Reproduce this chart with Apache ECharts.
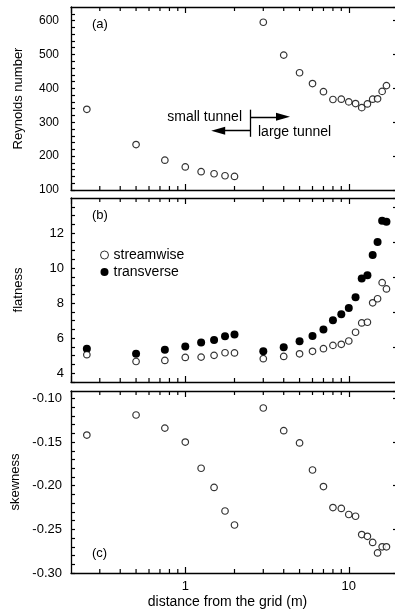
<!DOCTYPE html>
<html>
<head>
<meta charset="utf-8">
<script src="https://cdn.jsdelivr.net/npm/echarts@6/dist/echarts.min.js"></script>
<style>
  html, body { margin: 0; padding: 0; background: #fff; overflow: hidden; }
  #chart { width: 400px; height: 613px; }
</style>
</head>
<body>
<div id="chart"></div>
<script>
// distance from the grid (m)
const distances = [0.25, 0.5, 0.75, 1, 1.25, 1.5, 1.75, 2, 3, 4, 5, 6, 7, 8, 9, 10, 11, 12, 13, 14, 15, 16, 17];
// (a) Reynolds number
const reynolds = [338, 234, 188, 168, 154, 148, 142, 140, 595, 498, 446, 414, 390, 367, 368, 360, 355, 343, 354, 368, 369, 391, 408];
// (b) flatness
const flatStreamwise = [5.06, 4.67, 4.73, 4.90, 4.92, 5.02, 5.17, 5.16, 4.83, 4.96, 5.11, 5.25, 5.40, 5.59, 5.65, 5.84, 6.34, 6.87, 6.91, 8.02, 8.25, 9.17, 8.81];
const flatTransverse = [5.40, 5.11, 5.34, 5.53, 5.75, 5.90, 6.11, 6.21, 5.26, 5.48, 5.82, 6.13, 6.49, 7.03, 7.36, 7.72, 8.33, 9.40, 9.59, 10.75, 11.49, 12.70, 12.64];
// (c) skewness
const skewness = [-0.142, -0.119, -0.134, -0.150, -0.180, -0.202, -0.229, -0.245, -0.111, -0.137, -0.151, -0.182, -0.201, -0.225, -0.226, -0.233, -0.235, -0.256, -0.258, -0.265, -0.277, -0.270, -0.270];
// minor ticks of the log x axis
const xMinorTicks = [0.3, 0.4, 0.5, 0.6, 0.7, 0.8, 0.9, 2, 3, 4, 5, 6, 7, 8, 9];

const FONT = '"Liberation Sans", Arial, Helvetica, sans-serif';
const BLACK = '#000';

const chart = echarts.init(document.getElementById('chart'));

const grids = [
  { left: 71, right: 2, top: 7, height: 183 },
  { left: 71, right: 2, top: 198, height: 184 },
  { left: 71, right: 2, top: 391, height: 182 },
];

const pairs = (arr) => distances.map((d, i) => [d, arr[i]]);

const axisLine = { show: true, onZero: false, lineStyle: { color: BLACK, width: 1.3 } };

function xAxisFor(gridIndex, position, withLabels) {
  return {
    type: 'log',
    gridIndex,
    position,
    min: 0.2,
    max: 20,
    axisLine,
    axisTick: { show: true, inside: true, length: 6, lineStyle: { color: BLACK, width: 1.2 } },
    splitLine: { show: false },
    axisLabel: {
      show: withLabels,
      color: BLACK,
      fontFamily: FONT,
      fontSize: 13,
      margin: 7,
      showMinLabel: false,
      showMaxLabel: false,
      formatter: (v) => (Math.abs(v - 1) < 1e-6 ? '1' : Math.abs(v - 10) < 1e-6 ? '10' : ''),
    },
    name: withLabels ? 'distance from the grid (m)' : '',
    nameLocation: 'middle',
    nameGap: 22,
    nameTextStyle: { color: BLACK, fontFamily: FONT, fontSize: 14, padding: [0, 14, 0, 0] },
  };
}

function leftYAxis(gridIndex, min, max, interval, margin, fontSize, name, formatter) {
  return {
    type: 'value',
    gridIndex,
    position: 'left',
    min, max, interval,
    axisLine,
    axisTick: { show: true, inside: true, length: 4, lineStyle: { color: BLACK, width: 1.2 } },
    splitLine: { show: false },
    axisLabel: { color: BLACK, fontFamily: FONT, fontSize, margin, showMaxLabel: false, formatter },
    name,
    nameLocation: 'middle',
    nameGap: 46,
    nameTextStyle: { color: BLACK, fontFamily: FONT, fontSize: 13 },
  };
}

function rightYAxis(gridIndex, min, max, interval) {
  return {
    type: 'value',
    gridIndex,
    position: 'right',
    min, max, interval,
    axisLine,
    axisTick: { show: true, inside: true, length: 5, lineStyle: { color: BLACK, width: 1.2 } },
    splitLine: { show: false },
    axisLabel: { show: false },
  };
}

const openCircle = {
  type: 'scatter',
  symbol: 'circle',
  symbolSize: 6.5,
  itemStyle: { color: '#fff', borderColor: BLACK, borderWidth: 1.2 },
};

function renderMinorTicks(params, api) {
  const cs = params.coordSys;
  const x = api.coord([api.value(0), api.value(1)])[0];
  const style = { stroke: BLACK, lineWidth: 1.2 };
  return {
    type: 'group',
    children: [
      { type: 'line', shape: { x1: x, y1: cs.y, x2: x, y2: cs.y + 4 }, style },
      { type: 'line', shape: { x1: x, y1: cs.y + cs.height, x2: x, y2: cs.y + cs.height - 4 }, style },
    ],
  };
}

const yMins = [100, 3.5, -0.3];
const tickSeries = [0, 1, 2].map((g) => ({
  type: 'custom',
  xAxisIndex: g * 2,
  yAxisIndex: g * 2,
  silent: true,
  clip: false,
  renderItem: renderMinorTicks,
  data: xMinorTicks.map((t) => [t, yMins[g]]),
  z: 5,
}));

const arrowLine = { color: BLACK, width: 1.3, type: 'solid' };

const option = {
  animation: false,
  backgroundColor: '#fff',
  textStyle: { fontFamily: FONT },
  grid: grids,
  xAxis: [
    xAxisFor(0, 'bottom', false), xAxisFor(0, 'top', false),
    xAxisFor(1, 'bottom', false), xAxisFor(1, 'top', false),
    xAxisFor(2, 'bottom', true), xAxisFor(2, 'top', false),
  ],
  yAxis: [
    leftYAxis(0, 100, 640, 20, 12, 12, 'Reynolds number', (v) => (v % 100 === 0 ? String(v) : '')),
    rightYAxis(0, 100, 640, 100),
    leftYAxis(1, 3.5, 14, 0.5, 7, 13, 'flatness', (v) => {
      const r = Math.round(v);
      return Math.abs(v - r) < 1e-6 && r % 2 === 0 ? String(r) : '';
    }),
    rightYAxis(1, 3.5, 14, 2),
    leftYAxis(2, -0.3, -0.0915, 0.01, 9, 13, 'skewness', (v) => {
      const k = Math.round(v * 100);
      return Math.abs(v * 100 - k) < 1e-6 && k % 5 === 0 ? v.toFixed(2) : '';
    }),
    rightYAxis(2, -0.3, -0.0915, 0.05),
  ],
  legend: {
    show: true,
    orient: 'vertical',
    left: 100,
    top: 248,
    padding: 0,
    itemWidth: 8,
    itemHeight: 8,
    itemGap: 3,
    icon: 'circle',
    textStyle: { color: BLACK, fontFamily: FONT, fontSize: 14 },
    data: [
      { name: 'streamwise', itemStyle: { color: '#fff', borderColor: BLACK, borderWidth: 1 } },
      { name: 'transverse' },
    ],
  },
  series: [
    {
      ...openCircle,
      name: 'Reynolds number',
      xAxisIndex: 0,
      yAxisIndex: 0,
      data: pairs(reynolds),
      markLine: {
        silent: true,
        animation: false,
        label: { show: false },
        lineStyle: arrowLine,
        data: [
          [{ coord: [2.5, 337], symbol: 'none' }, { coord: [2.5, 257], symbol: 'none' }],
          [{ coord: [2.5, 316], symbol: 'none' }, { coord: [3.96, 316], symbol: 'triangle', symbolSize: [8, 14] }],
          [{ coord: [2.5, 275], symbol: 'none' }, { coord: [1.59, 275], symbol: 'triangle', symbolSize: [8, 14] }],
        ],
      },
    },
    {
      ...openCircle,
      name: 'streamwise',
      xAxisIndex: 2,
      yAxisIndex: 2,
      data: pairs(flatStreamwise),
      z: 3,
    },
    {
      type: 'scatter',
      name: 'transverse',
      xAxisIndex: 2,
      yAxisIndex: 2,
      symbol: 'circle',
      symbolSize: 8,
      itemStyle: { color: BLACK, opacity: 1 },
      data: pairs(flatTransverse),
      z: 2,
    },
    {
      ...openCircle,
      name: 'skewness',
      xAxisIndex: 4,
      yAxisIndex: 4,
      data: pairs(skewness),
    },
    ...tickSeries,
  ],
  graphic: [
    { type: 'text', left: 92, top: 18, style: { text: '(a)', font: '13px ' + FONT, fill: BLACK } },
    { type: 'text', left: 92, top: 209, style: { text: '(b)', font: '13px ' + FONT, fill: BLACK } },
    { type: 'text', left: 92, top: 547, style: { text: '(c)', font: '13px ' + FONT, fill: BLACK } },
    { type: 'text', x: 242, y: 117, style: { text: 'small tunnel', font: '14px ' + FONT, fill: BLACK, align: 'right', verticalAlign: 'middle' } },
    { type: 'text', x: 258, y: 132, style: { text: 'large tunnel', font: '14px ' + FONT, fill: BLACK, align: 'left', verticalAlign: 'middle' } },
  ],
};

chart.setOption(option);
</script>
</body>
</html>
